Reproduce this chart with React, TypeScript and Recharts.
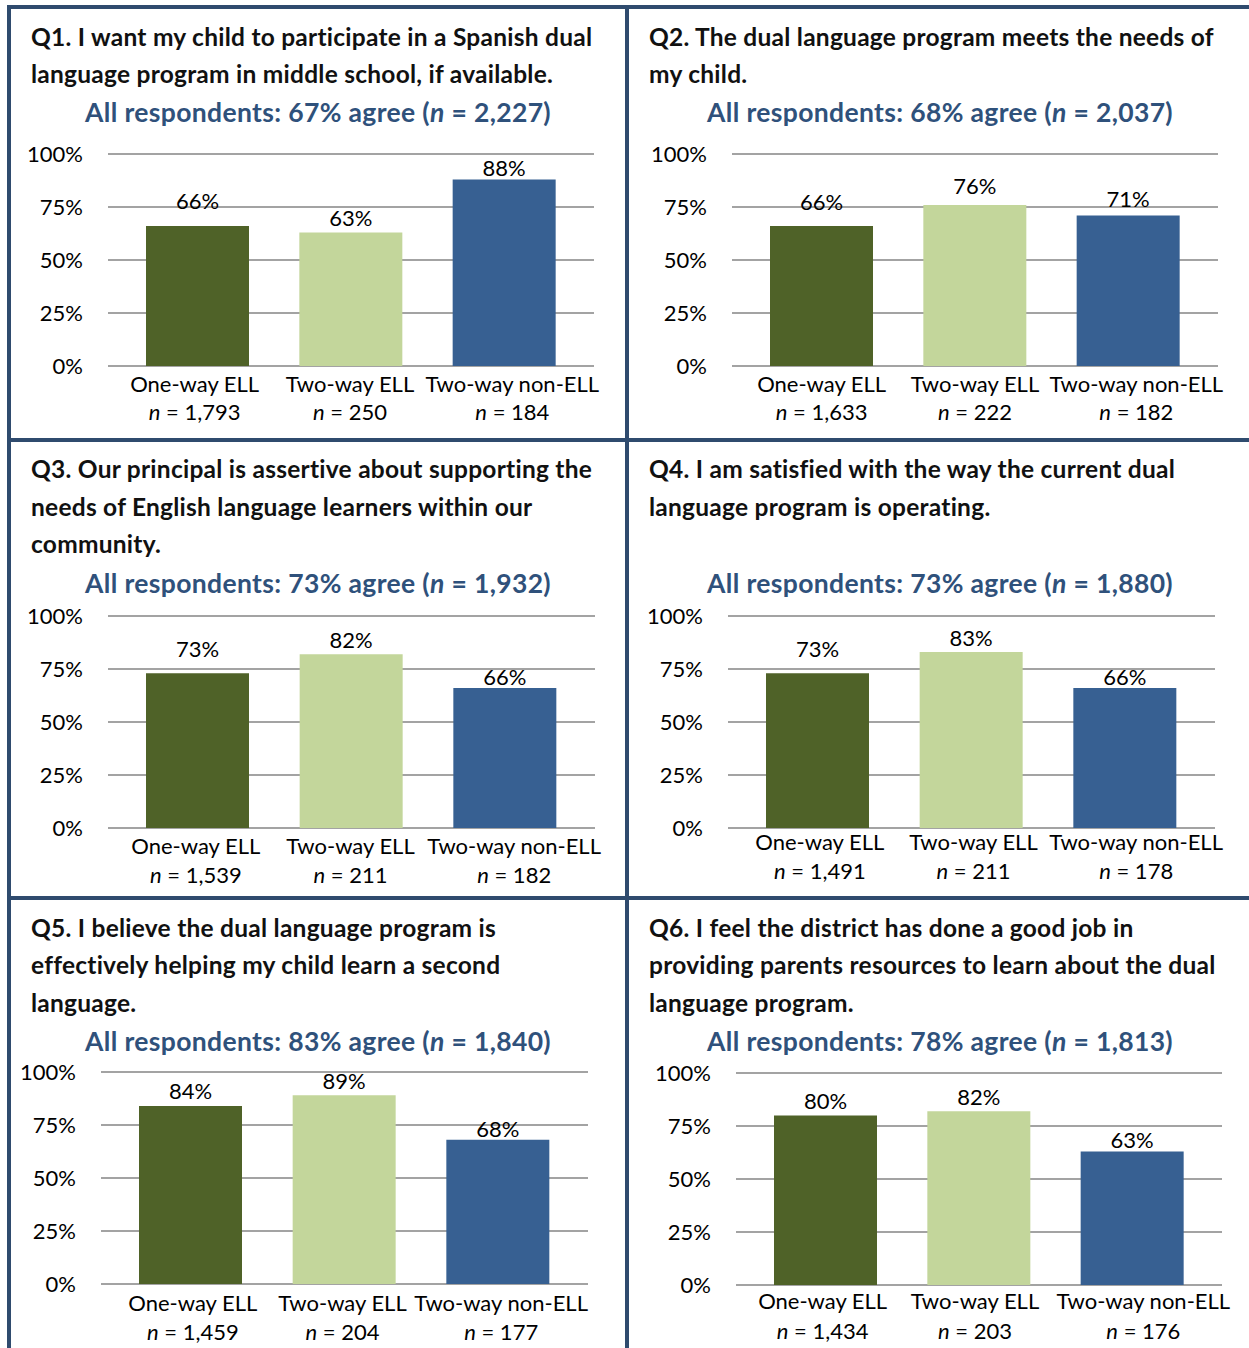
import React from 'react';
import { BarChart, Bar, XAxis, YAxis, CartesianGrid, Cell, LabelList } from 'recharts';

// ---------- data ----------
const categories = ['One-way ELL', 'Two-way ELL', 'Two-way non-ELL'];
const yTicks = [0, 25, 50, 75, 100];

const q1Values = [66, 63, 88];
const q1Counts = ['1,793', '250', '184'];
const q2Values = [66, 76, 71];
const q2Counts = ['1,633', '222', '182'];
const q3Values = [73, 82, 66];
const q3Counts = ['1,539', '211', '182'];
const q4Values = [73, 83, 66];
const q4Counts = ['1,491', '211', '178'];
const q5Values = [84, 89, 68];
const q5Counts = ['1,459', '204', '177'];
const q6Values = [80, 82, 63];
const q6Counts = ['1,434', '203', '176'];

const questionTitles = [
  ['Q1. I want my child to participate in a Spanish dual', 'language program in middle school, if available.'],
  ['Q2. The dual language program meets the needs of', 'my child.'],
  ['Q3. Our principal is assertive about supporting the', 'needs of English language learners within our', 'community.'],
  ['Q4. I am satisfied with the way the current dual', 'language program is operating.'],
  ['Q5. I believe the dual language program is', 'effectively helping my child learn a second', 'language.'],
  ['Q6. I feel the district has done a good job in', 'providing parents resources to learn about the dual', 'language program.'],
];
const overallAgree = [67, 68, 73, 73, 83, 78];
const overallN = ['2,227', '2,037', '1,932', '1,880', '1,840', '1,813'];

const seriesValues = [q1Values, q2Values, q3Values, q4Values, q5Values, q6Values];
const seriesCounts = [q1Counts, q2Counts, q3Counts, q4Counts, q5Counts, q6Counts];

// ---------- styles / layout ----------
const FONT = 'Lato, "Noto Sans", sans-serif';
const barColors = ['#4f6228', '#c3d69b', '#376092'];
const BORDER = '#2f4b6e';
const SUB_COLOR = '#2f517b';
const TICK_SIZE = 22;

const layouts = [
  { titleX: 31, titleY: [37, 74], subCx: 318, subY: 112, plotL: 108, plotR: 594, y100: 154, y0: 366, labR: 83, xl1: 384, xl2: 412, lift: [25, 14, 11], tickShift: [-3, -1, 8] },
  { titleX: 649, titleY: [37, 74], subCx: 940, subY: 112, plotL: 732, plotR: 1218, y100: 154, y0: 366, labR: 707, xl1: 384, xl2: 412, lift: [24, 19, 16], tickShift: [0, 0, 8] },
  { titleX: 31, titleY: [469, 507, 544], subCx: 318, subY: 583, plotL: 108, plotR: 595, y100: 616, y0: 828, labR: 83, xl1: 846, xl2: 875, lift: [24, 14, 11], tickShift: [-2, -1, 9] },
  { titleX: 649, titleY: [469, 507], subCx: 940, subY: 583, plotL: 728, plotR: 1215, y100: 616, y0: 828, labR: 703, xl1: 842, xl2: 871, lift: [24, 14, 11], tickShift: [2, 2, 11] },
  { titleX: 31, titleY: [928, 965, 1003], subCx: 318, subY: 1041, plotL: 101, plotR: 588, y100: 1072, y0: 1284, labR: 76, xl1: 1303, xl2: 1332, lift: [15, 14, 11], tickShift: [2, -2, 3] },
  { titleX: 649, titleY: [928, 965, 1003], subCx: 940, subY: 1041, plotL: 736, plotR: 1222, y100: 1073, y0: 1285, labR: 711, xl1: 1301, xl2: 1331, lift: [14, 14, 11], tickShift: [-3, -4, 11] },
];

const YW = 80;
const TOP_M = 40;
const XH = 60;
const BOT_M = 10;
const RIGHT_M = 10;

function Panel({ idx }: { idx: number }) {
  const L = layouts[idx];
  const values = seriesValues[idx];
  const counts = seriesCounts[idx];
  const data = categories.map((name, j) => ({ name, value: values[j] }));
  const plotW = L.plotR - L.plotL;
  const plotH = L.y0 - L.y100;
  const chartW = YW + plotW + RIGHT_M;
  const chartH = TOP_M + plotH + XH + BOT_M;

  const renderTick = (props: any) => {
    const { x, y, payload, index } = props;
    const tx = Number(x) + (L.tickShift[index] || 0);
    return (
      <g>
        <text x={tx} y={Number(y) + (L.xl1 - L.y0)} dy="0.35em" textAnchor="middle" fontSize={TICK_SIZE} fill="#000" fontFamily={FONT}>
          {payload.value}
        </text>
        <text x={tx} y={Number(y) + (L.xl2 - L.y0)} dy="0.35em" textAnchor="middle" fontSize={TICK_SIZE} fill="#000" fontFamily={FONT}>
          <tspan fontStyle="italic">n</tspan>
          {' = ' + counts[index]}
        </text>
      </g>
    );
  };

  const renderLabel = (props: any) => {
    const { x, y, width, value, index } = props;
    return (
      <text
        x={Number(x) + Number(width) / 2}
        y={Number(y) - L.lift[index]}
        dy="0.35em"
        textAnchor="middle"
        fontSize={TICK_SIZE}
        fill="#000"
        fontFamily={FONT}
      >
        {value + '%'}
      </text>
    );
  };

  return (
    <>
      {questionTitles[idx].map((line, k) => (
        <div
          key={k}
          style={{
            position: 'absolute',
            left: L.titleX,
            top: L.titleY[k] - 16,
            height: 32,
            lineHeight: '32px',
            fontSize: 24.5,
            letterSpacing: 0.25,
            fontWeight: 700,
            color: '#111',
            whiteSpace: 'nowrap',
          }}
        >
          {line}
        </div>
      ))}
      <div
        style={{
          position: 'absolute',
          left: L.subCx - 320,
          width: 640,
          top: L.subY - 18,
          height: 36,
          lineHeight: '36px',
          textAlign: 'center',
          fontSize: 26.5,
          letterSpacing: 0.35,
          fontWeight: 700,
          color: SUB_COLOR,
          whiteSpace: 'nowrap',
        }}
      >
        All respondents: {overallAgree[idx]}% agree (<i>n</i> = {overallN[idx]})
      </div>
      <div style={{ position: 'absolute', left: L.plotL - YW, top: L.y100 - TOP_M }}>
        <BarChart
          width={chartW}
          height={chartH}
          data={data}
          margin={{ top: TOP_M, right: RIGHT_M, bottom: BOT_M, left: 0 }}
          barSize={103}
        >
          <CartesianGrid horizontal vertical={false} stroke="#a3a3a3" strokeWidth={2} />
          <XAxis
            dataKey="name"
            axisLine={false}
            tickLine={false}
            tickSize={0}
            tickMargin={0}
            height={XH}
            interval={0}
            padding={{ left: 13, right: 13 }}
            tick={renderTick}
          />
          <YAxis
            domain={[0, 100]}
            ticks={yTicks}
            width={YW}
            axisLine={false}
            tickLine={false}
            tickSize={0}
            tickMargin={L.plotL - L.labR}
            tickFormatter={(v: number) => v + '%'}
            tick={{ fill: '#000', fontSize: TICK_SIZE, fontFamily: FONT }}
          />
          <Bar dataKey="value" isAnimationActive={false}>
            {data.map((d, j) => (
              <Cell key={j} fill={barColors[j]} />
            ))}
            <LabelList dataKey="value" content={renderLabel} />
          </Bar>
        </BarChart>
      </div>
    </>
  );
}

export default function App() {
  const line = (style: React.CSSProperties) => (
    <div style={{ position: 'absolute', background: BORDER, ...style }} />
  );
  return (
    <div
      style={{
        position: 'absolute',
        left: 0,
        top: 0,
        width: 1249,
        height: 1348,
        background: '#fff',
        overflow: 'hidden',
        fontFamily: FONT,
      }}
    >
      {line({ left: 7, top: 5, width: 1242, height: 4 })}
      {line({ left: 7, top: 5, width: 4, height: 1343 })}
      {line({ left: 625, top: 5, width: 4, height: 1343 })}
      {line({ left: 7, top: 438, width: 1242, height: 4 })}
      {line({ left: 7, top: 896, width: 1242, height: 4 })}
      {layouts.map((_, i) => (
        <Panel key={i} idx={i} />
      ))}
    </div>
  );
}
